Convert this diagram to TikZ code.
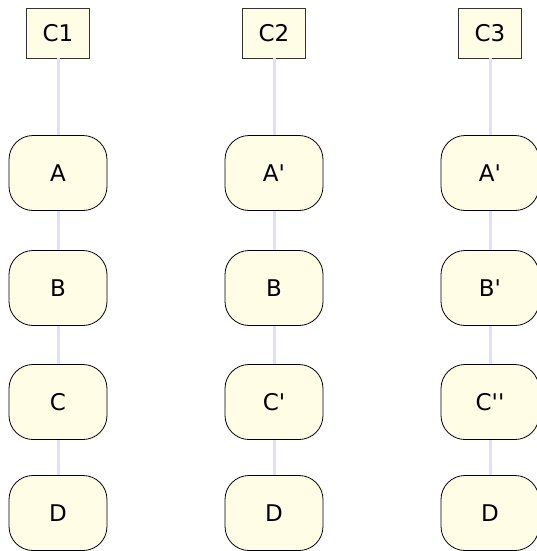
\documentclass[tikz,border=0pt]{standalone}
\usepackage{fontspec}
\setmainfont{DejaVu Sans}
\definecolor{nodefill}{HTML}{FFFDE6}
\definecolor{linkcol}{HTML}{E0E0FA}
\definecolor{framecol}{HTML}{333333}
\newcommand{\sq}{\textquotesingle}
\begin{document}
\begin{tikzpicture}[x=1pt,y=-1pt,
  head/.style={draw=framecol,line width=0.8pt,fill=nodefill,minimum width=63pt,minimum height=50pt,inner sep=0pt,font=\fontsize{23}{27}\selectfont},
  item/.style={draw=black,line width=0.8pt,fill=nodefill,rounded corners=24pt,minimum width=98pt,minimum height=75pt,inner sep=0pt,font=\fontsize{23}{27}\selectfont},
  link/.style={draw=linkcol,line width=3pt}]
\useasboundingbox (0,0) rectangle (536,551);
\foreach \c/\x/\a/\b/\cc/\d in {1/58/A/B/C/D,2/274/A\sq/B/C\sq/D,3/490/A\sq/B\sq/C\sq\sq/D}{
  \node[head] (h\c) at (\x,33) {C\c};
  \node[item] (a\c) at (\x,173) {\a};
  \node[item] (b\c) at (\x,288) {\b};
  \node[item] (c\c) at (\x,402) {\cc};
  \node[item] (d\c) at (\x,513) {\d};
}
\foreach \c in {1,2,3}{
  \draw[link] (h\c.south) -- (a\c.north);
  \draw[link] (a\c.south) -- (b\c.north);
  \draw[link] (b\c.south) -- (c\c.north);
  \draw[link] (c\c.south) -- (d\c.north);
}
\end{tikzpicture}
\end{document}
